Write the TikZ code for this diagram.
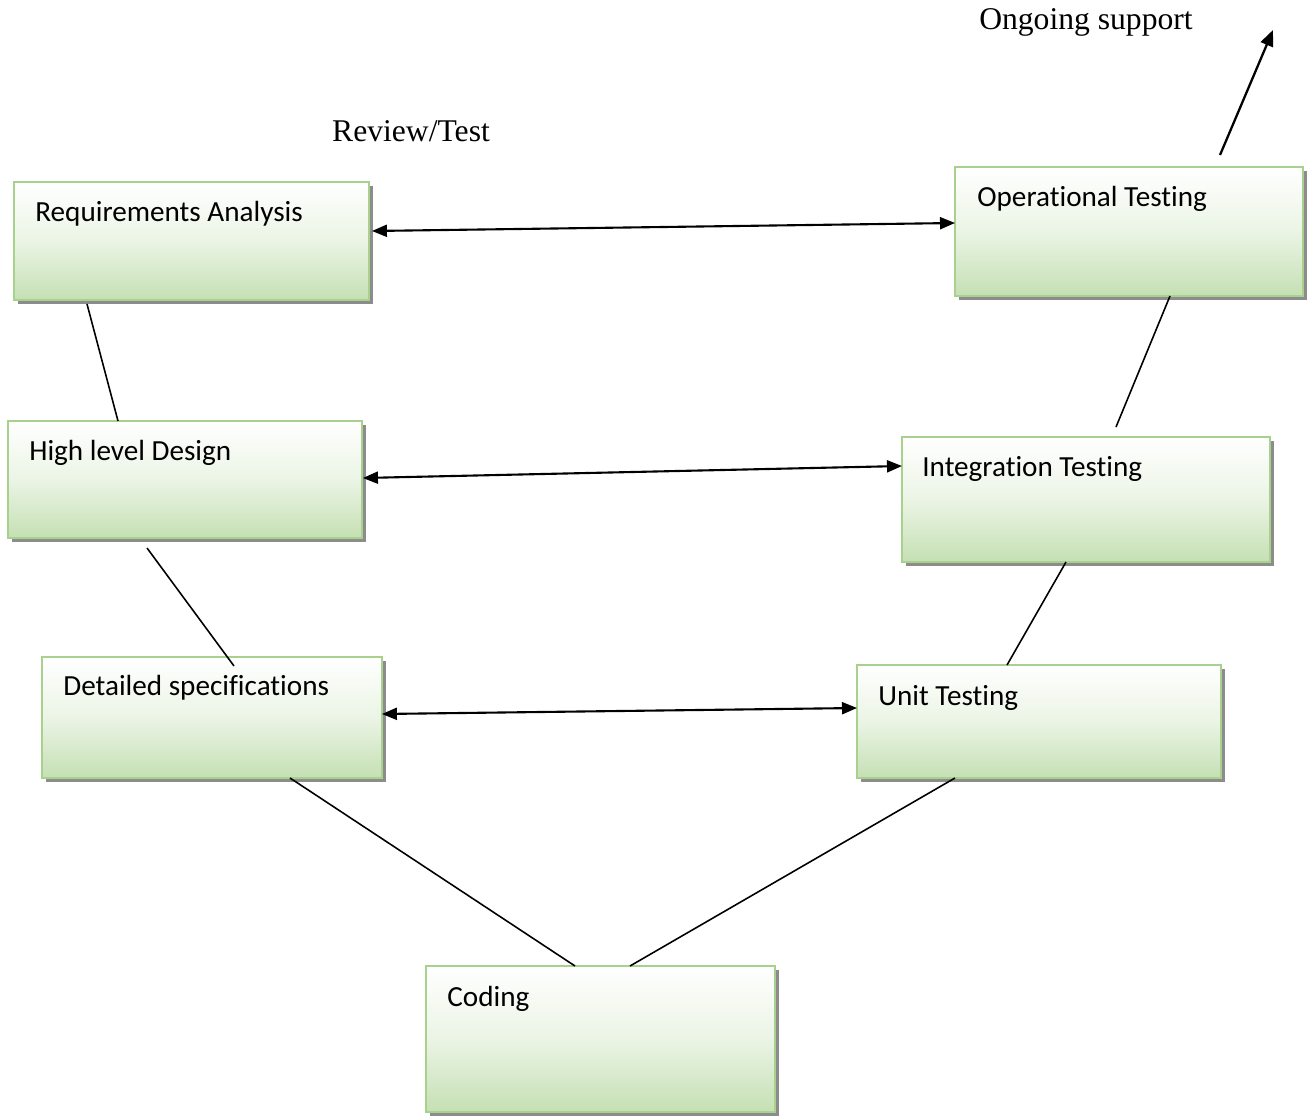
\documentclass[tikz,border=0pt]{standalone}
\usepackage{fontspec}
\setmainfont{Liberation Serif}
\newfontfamily\boxfont{Carlito}[Ligatures=NoCommon]
\usetikzlibrary{arrows.meta, shadows}

\definecolor{boxline}{RGB}{169,209,142}
\definecolor{boxgreen}{RGB}{197,224,180}

\begin{document}
\begin{tikzpicture}[
    x=0.02cm, y=-0.02cm,
    stage/.style={rectangle, draw=boxline, line width=1.1pt, anchor=north west, inner sep=0pt, outer sep=0pt,
        top color=white, bottom color=boxgreen, middle color=boxgreen!35,
        drop shadow={shadow xshift=0.08cm, shadow yshift=-0.08cm, fill=black!45, opacity=1}},
    stagetext/.style={anchor=base west, inner sep=0pt, font=\boxfont\fontsize{16.6}{20}\selectfont},
    note/.style={font=\fontsize{18}{22}\selectfont},
    link/.style={line width=0.9pt},
    arrow/.style={{Triangle[length=0.3cm, width=0.24cm]}-{Triangle[length=0.3cm, width=0.24cm]}, line width=1.2pt},
    outarrow/.style={-{Triangle[length=0.32cm, width=0.26cm]}, line width=1.3pt}
]
\useasboundingbox (0,0) rectangle (1307,1115);

% Left side
\node[stage, minimum width=7.1cm, minimum height=2.36cm] (req) at (14,182) {};
\node[stage, minimum width=7.08cm, minimum height=2.34cm] (high) at (8,421) {};
\node[stage, minimum width=6.8cm, minimum height=2.42cm] (det) at (42,657) {};

% Bottom
\node[stage, minimum width=6.98cm, minimum height=2.92cm] (coding) at (426,966) {};

% Right side
\node[stage, minimum width=7.28cm, minimum height=2.26cm] (unit) at (857,665) {};
\node[stage, minimum width=7.36cm, minimum height=2.5cm] (integ) at (902,437) {};
\node[stage, minimum width=6.96cm, minimum height=2.58cm] (oper) at (955,167) {};

% Texts
\node[stagetext] (reqt) at ([shift={(21,39)}]req.north west) {Requirements Analysis};
\node[stagetext] (hight) at ([shift={(21,39)}]high.north west) {High level Design};
\node[stagetext] (dett) at ([shift={(21,38)}]det.north west) {Detailed specifications};
\node[stagetext] (codingt) at ([shift={(21,40)}]coding.north west) {Coding};
\node[stagetext] (unitt) at ([shift={(21,40)}]unit.north west) {Unit Testing};
\node[stagetext] (integt) at ([shift={(20,39)}]integ.north west) {Integration Testing};
\node[stagetext] (opert) at ([shift={(22,39)}]oper.north west) {Operational Testing};

% Labels
\node[note] (review) at (411,131) {Review/Test};
\node[note] (support) at (1086,22) {Ongoing support};
\coordinate (supp) at (1273,30);

% V lines
\draw[link] ([shift={(73,4)}]req.south west) -- ([shift={(110,0)}]high.north west);
\draw[link] ([shift={(139,10)}]high.south west) -- ([shift={(192,9)}]det.north west);
\draw[link] ([shift={(248,0)}]det.south west) -- ([shift={(149,0)}]coding.north west);
\draw[link] ([shift={(204,0)}]coding.north west) -- ([shift={(98,0)}]unit.south west);
\draw[link] ([shift={(150,0)}]unit.north west) -- ([shift={(164,0)}]integ.south west);
\draw[link] ([shift={(214,-10)}]integ.north west) -- ([shift={(215,0)}]oper.south west);

% Review arrows
\draw[arrow] ([shift={(3,49)}]req.north east) -- ([shift={(0,56)}]oper.north west);
\draw[arrow] ([shift={(1,57)}]high.north east) -- ([shift={(0,29)}]integ.north west);
\draw[arrow] ([shift={(0,57)}]det.north east) -- ([shift={(0,43)}]unit.north west);

% Support
\draw[outarrow] ([shift={(265,-12)}]oper.north west) -- (supp);

\end{tikzpicture}
\end{document}
